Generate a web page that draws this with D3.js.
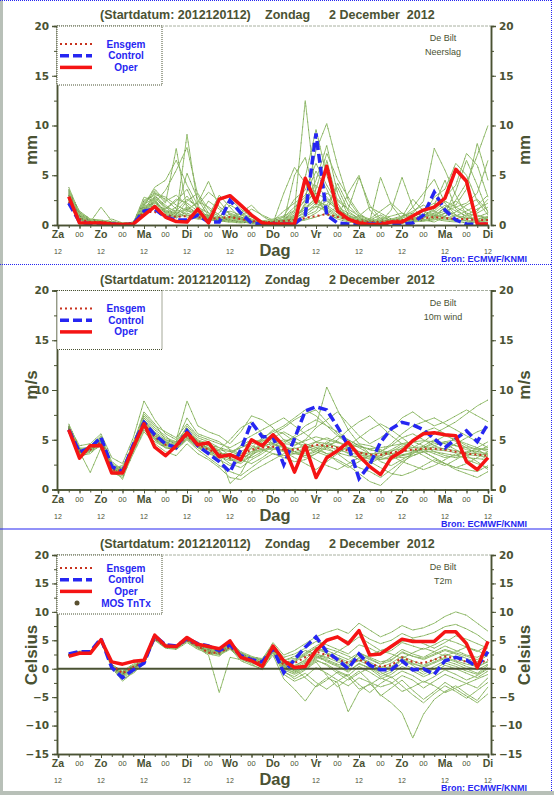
<!DOCTYPE html>
<html>
<head>
<meta charset="utf-8">
<script src="https://cdn.jsdelivr.net/npm/d3@7"></script>
<style>
body { margin: 0; background: #fff; }
text { font-family: 'Liberation Sans', Arial, sans-serif; }
.tick-label { font-family: 'DejaVu Sans', sans-serif; font-weight: bold; font-size: 10.5px; fill: #4a5233; }
</style>
</head>
<body>
<div id="chart"></div>
<script>
// forecast steps (hours after 2012-12-01 12 UTC)
let hours = [6,12,18,24,30,36,42,48,54,60,66,72,78,84,90,96,102,108,114,120,126,132,138,144,150,156,162,168,174,180,186,192,198,204,210,216,222,228,234,240]
let dayNames = ['Za','Zo','Ma','Di','Wo','Do','Vr','Za','Zo','Ma','Di']

// ---- Neerslag (mm)
let precipOper = [2.85,0.2,0.2,0.2,0.1,0.05,0.1,1.0,1.85,0.8,0.35,0.3,1.6,0.2,2.6,2.95,2.0,1.0,0.2,0.1,0.1,0.1,4.7,2.3,5.9,1.4,0.6,0.2,0.05,0.05,0.3,0.3,0.9,1.5,1.8,2.7,5.6,4.4,0.1,0.1]
let precipControl = [2.2,0.3,0.1,0.1,0.1,0.0,0.1,1.4,1.6,0.8,0.5,0.5,1.0,0.3,0.3,2.5,1.2,0.2,0.1,0.1,0.1,0.1,1.0,9.2,1.0,0.2,0.1,0.1,0.1,0.1,0.1,0.1,0.2,1.0,3.3,1.5,0.5,0.1,0.05,0.1]
let precipMean = [2.3,0.6,0.3,0.3,0.2,0.1,0.2,1.3,1.3,1.0,0.8,0.9,0.8,0.6,0.7,0.8,0.6,0.4,0.3,0.3,0.4,0.5,0.7,0.9,1.1,0.8,0.6,0.4,0.3,0.3,0.4,0.5,0.6,0.7,0.8,0.7,0.6,0.6,0.5,0.5]
let precipMembers = [
	[3.2,1.0,0.4,0.3,0.2,0.1,0.2,1.8,2.6,1.2,0.8,9.1,2.0,0.6,0.4,0.9,0.5,0.3,0.2,0.4,0.8,1.5,12.5,3.0,1.2,0.6,0.3,0.2,0.5,1.0,0.4,0.2,0.3,0.8,1.2,0.6,0.4,0.2,0.3,0.5],
	[2.6,0.8,0.3,1.8,0.4,0.1,0.1,1.2,3.4,2.2,7.7,1.5,0.8,2.4,1.6,0.7,1.2,2.0,0.9,0.3,0.2,0.4,2.2,4.5,8.0,3.2,1.0,0.4,0.2,0.3,1.5,4.8,1.8,0.5,0.3,0.8,2.5,4.2,7.0,10.0],
	[3.8,1.2,0.5,0.4,0.3,0.1,0.3,2.0,3.8,4.5,6.5,4.0,2.0,3.3,2.4,1.0,0.6,0.4,0.2,0.5,0.4,5.0,6.8,2.5,1.4,4.2,2.0,0.8,0.3,0.4,0.6,0.3,1.2,2.4,7.7,5.5,3.0,1.0,0.4,0.3],
	[2.4,0.6,0.2,0.2,0.6,0.2,0.1,1.5,2.2,3.5,5.5,7.8,3.0,1.2,0.4,0.3,0.2,0.3,0.4,0.6,0.9,2.6,3.5,6.2,4.0,2.2,0.6,0.3,0.2,0.8,0.5,0.4,0.6,1.0,2.8,3.6,6.2,5.0,2.4,1.0],
	[3.0,0.9,0.4,0.3,0.1,0.0,0.1,1.0,2.8,1.6,2.4,3.6,1.4,0.5,0.8,2.0,1.4,0.5,0.3,0.2,3.2,5.8,4.2,2.0,6.5,2.4,1.6,4.8,2.0,0.6,0.3,0.2,0.5,0.4,0.7,1.8,2.0,3.6,8.2,4.5],
	[2.0,0.5,0.2,0.2,0.1,0.1,0.2,2.4,3.0,1.8,1.0,2.4,3.2,1.6,0.8,0.5,0.3,0.2,0.1,0.2,0.6,1.2,4.8,9.6,5.0,1.8,0.6,0.3,0.2,0.2,0.3,0.8,2.6,1.4,0.6,0.4,0.3,0.5,1.4,2.6],
	[2.8,0.7,0.3,0.2,0.2,0.1,0.1,1.6,2.0,0.8,1.4,5.2,2.6,0.9,3.0,1.8,0.6,0.4,0.3,0.2,0.3,0.8,1.6,2.8,1.0,0.7,3.2,5.0,1.5,0.4,0.2,0.3,0.4,0.6,2.0,4.5,1.6,0.8,0.4,0.6],
	[3.4,1.4,0.6,0.5,0.3,0.2,0.2,2.8,2.4,1.4,0.9,1.6,2.2,4.4,1.8,1.2,0.8,0.5,0.3,0.3,0.5,0.6,2.0,3.6,7.2,4.6,2.8,1.2,0.4,4.8,2.0,0.6,0.3,0.4,0.6,1.2,3.4,6.5,4.0,1.2],
	[2.2,0.6,0.3,0.3,0.2,0.1,0.1,1.4,1.8,1.0,0.8,1.0,0.9,0.7,0.5,0.6,0.8,0.4,0.2,0.2,0.3,0.5,1.0,1.8,2.4,1.6,0.9,0.5,0.3,0.3,0.4,0.5,0.8,1.4,1.0,0.7,0.9,1.4,2.0,3.0],
	[3.6,1.1,0.4,0.3,0.2,0.1,0.2,2.2,3.2,2.8,2.0,1.4,1.2,1.0,0.6,0.4,0.3,0.2,0.2,0.4,1.4,2.2,3.0,5.4,3.6,1.2,0.5,0.2,0.1,0.2,0.3,0.6,1.8,3.2,4.6,2.2,1.0,0.4,0.3,0.8],
	[2.5,0.7,0.2,0.2,0.1,0.0,0.1,1.1,2.5,1.2,1.8,2.9,1.6,0.6,0.4,0.3,0.9,1.6,1.0,0.5,0.4,0.3,0.6,1.2,2.0,3.8,1.4,0.6,0.4,0.3,0.2,0.3,0.5,0.9,1.6,2.8,4.0,7.2,6.0,2.8],
	[3.1,0.9,0.5,0.4,0.2,0.1,0.3,1.9,3.6,2.4,3.0,2.0,1.0,0.8,1.2,2.6,1.6,0.8,0.4,0.3,0.6,1.0,2.6,7.5,10.2,6.0,2.5,1.0,0.6,0.4,0.5,0.4,0.6,0.8,1.0,1.4,1.8,2.2,3.2,6.5],
	[2.7,0.8,0.3,0.2,0.1,0.1,0.1,1.7,2.3,1.4,1.1,1.8,1.2,0.9,0.6,1.1,0.7,0.4,0.2,0.2,0.5,0.9,1.8,2.6,1.8,1.0,0.6,0.4,0.3,0.2,0.4,0.7,1.0,1.6,2.2,1.6,1.0,0.7,0.6,0.8],
	[2.9,1.0,0.4,0.3,0.2,0.1,0.2,1.3,2.0,1.6,2.6,2.2,1.4,0.8,0.5,0.4,0.3,0.3,0.2,0.3,0.6,1.4,2.4,3.2,2.6,1.4,0.8,0.5,0.4,0.6,0.9,1.2,0.8,0.5,0.9,1.8,2.4,1.6,1.0,0.7],
	[2.3,0.5,0.2,0.2,0.1,0.0,0.1,1.6,2.9,2.0,1.2,0.8,0.6,0.5,0.9,1.4,1.0,0.6,0.3,0.2,0.2,0.4,0.9,1.4,3.2,2.6,1.6,0.9,0.5,0.3,0.2,0.2,0.4,0.7,1.2,2.0,1.4,0.9,1.2,1.8],
	[3.3,1.2,0.5,0.4,0.2,0.1,0.2,2.1,2.7,1.8,1.4,2.6,1.8,1.2,0.7,0.5,0.4,0.3,0.2,0.3,0.4,0.7,1.2,2.2,1.6,0.9,0.5,0.3,0.6,1.4,2.2,1.2,0.6,0.4,0.5,0.9,1.3,2.0,2.6,1.4],
	[2.1,0.6,0.3,0.2,0.1,0.1,0.1,1.2,1.9,1.3,0.9,1.2,0.8,0.6,0.4,0.7,1.1,0.8,0.4,0.3,0.2,0.3,0.5,0.8,1.2,1.8,1.2,0.7,0.4,0.2,0.2,0.3,0.6,1.1,0.8,0.5,0.6,1.0,1.6,2.2],
	[3.5,1.3,0.6,0.4,0.3,0.2,0.2,2.5,3.1,2.6,1.6,1.0,0.7,0.5,0.4,0.6,0.5,0.3,0.2,0.4,0.8,1.8,2.8,4.0,2.8,1.6,1.0,0.6,0.4,0.3,0.5,0.8,1.4,2.0,1.4,0.8,0.5,0.4,0.5,0.9],
	[2.6,0.7,0.3,0.3,0.2,0.1,0.1,1.5,2.4,1.1,0.7,1.4,2.4,1.8,1.0,0.5,0.3,0.2,0.2,0.2,0.3,0.6,1.4,1.9,1.4,0.8,0.4,0.9,1.8,1.2,0.6,0.4,0.3,0.5,0.8,1.2,0.9,0.6,0.8,1.2],
	[3.0,0.9,0.4,0.3,0.2,0.1,0.2,1.9,2.2,1.5,1.2,1.6,1.1,0.7,0.5,0.8,0.6,0.4,0.3,0.3,0.4,0.8,1.6,2.4,2.0,1.2,0.7,0.4,0.3,0.4,0.6,0.9,1.2,1.0,1.4,2.4,1.8,1.2,0.9,0.6]
]

// ---- 10m wind (m/s)
let windOper = [6.0,3.15,4.4,4.4,1.65,1.65,4.25,6.6,4.25,3.4,4.4,5.7,4.5,4.7,3.3,3.5,3.0,5.0,4.4,5.5,4.4,1.75,4.4,1.2,3.2,3.9,4.75,3.4,2.3,1.5,3.2,3.85,4.9,5.6,5.7,5.5,5.4,2.8,2.0,3.2]
let windControl = [6.0,3.75,4.2,5.25,2.3,1.8,4.5,6.75,5.5,4.6,4.2,5.9,4.4,3.6,2.8,1.75,4.0,6.75,5.3,5.3,2.5,5.1,7.9,8.3,8.0,6.3,4.4,1.1,2.5,4.75,6.1,6.75,6.5,6.0,5.1,4.2,5.1,5.9,4.8,6.6]
let windMean = [6.0,3.8,4.0,4.8,2.0,1.9,4.3,6.6,5.3,4.5,4.3,5.4,4.5,4.0,3.6,3.2,3.5,4.0,4.2,4.3,4.0,4.0,4.2,4.5,4.4,4.2,3.9,3.7,3.5,3.5,3.7,3.9,4.0,4.1,4.1,4.0,3.8,3.6,3.5,3.4]
let windMembers = [
	[6.2,4.0,4.2,5.0,2.6,2.0,4.8,7.2,6.0,5.2,4.8,6.2,5.0,4.6,3.8,3.0,2.6,3.4,4.8,5.6,6.2,7.0,7.6,8.0,6.8,5.6,4.8,4.2,3.6,3.0,3.4,4.2,5.0,5.8,6.2,5.6,4.8,4.2,3.6,3.0],
	[5.8,3.4,3.6,4.6,1.6,1.4,3.8,6.0,4.8,4.2,4.0,5.0,4.0,3.2,2.4,1.8,1.4,2.2,3.0,3.6,3.2,2.8,3.0,3.6,4.2,3.6,2.8,2.2,1.8,1.2,2.0,2.8,3.4,3.8,3.2,2.6,2.2,2.0,1.8,2.4],
	[6.4,4.4,4.6,5.6,3.2,2.6,5.2,8.9,7.0,5.6,5.0,8.9,6.4,5.8,5.4,4.6,5.8,7.4,7.0,6.2,5.0,4.4,5.0,6.2,7.0,7.8,6.6,5.4,4.6,5.2,6.0,7.2,7.8,7.0,6.4,6.8,7.4,8.0,7.4,6.8],
	[6.0,3.8,1.7,4.2,2.0,1.8,4.4,6.6,5.4,4.8,4.2,5.4,4.6,4.2,3.4,2.6,2.2,3.0,3.6,4.4,4.8,5.2,5.8,6.4,10.3,8.0,6.0,4.6,3.6,2.8,2.4,3.0,3.6,4.2,4.8,5.4,5.0,4.4,4.0,3.4],
	[6.6,4.2,4.0,5.2,2.4,1.0,4.0,7.0,5.8,5.0,4.6,6.0,4.8,4.4,3.6,0.6,1.6,3.6,5.0,6.0,5.6,4.8,4.2,3.8,3.4,3.0,2.4,1.6,0.8,0.4,1.4,2.6,3.6,4.4,5.0,4.6,4.0,3.4,2.8,2.0],
	[6.1,3.6,4.4,5.4,2.2,2.2,4.6,7.6,6.4,5.8,5.2,6.6,5.4,5.0,4.6,4.2,4.8,5.4,6.0,6.6,7.2,6.4,5.6,4.8,4.2,5.0,6.0,6.8,7.4,6.4,5.4,4.6,4.2,4.8,5.6,6.2,6.8,7.6,8.4,9.0],
	[5.9,3.2,3.8,4.4,1.8,1.2,3.6,5.8,4.6,3.8,3.4,4.6,3.6,3.0,2.2,1.2,1.0,1.8,2.4,3.0,3.6,4.2,3.6,3.0,2.4,2.0,2.6,3.2,2.8,2.2,1.6,1.4,1.8,2.4,3.0,2.6,2.0,1.6,1.2,1.8],
	[6.3,4.1,4.0,4.9,2.1,2.4,4.2,6.8,5.6,4.6,4.4,5.8,4.8,4.0,3.2,3.6,4.4,5.0,4.6,4.0,4.6,5.4,6.4,7.0,6.4,5.8,5.0,4.4,4.0,3.8,4.4,5.2,5.6,5.0,4.4,4.0,4.6,5.2,5.8,6.2],
	[6.0,3.9,4.3,5.1,2.5,1.6,4.3,6.4,5.2,4.4,4.6,5.6,4.4,3.6,4.0,5.0,6.2,6.8,5.6,4.6,3.8,3.2,2.6,2.0,2.8,3.6,4.4,5.2,6.0,6.6,6.0,5.2,4.4,3.8,3.2,2.6,2.2,2.6,3.2,3.8],
	[6.2,3.5,3.9,4.7,1.9,1.9,4.1,7.4,6.2,5.4,4.4,6.4,5.2,4.8,4.2,3.4,3.0,2.6,3.2,4.0,4.4,3.8,3.4,4.0,4.8,4.2,3.6,3.0,2.6,3.2,3.8,4.4,4.0,3.4,2.8,2.4,3.0,3.6,4.2,4.8],
	[5.8,3.7,4.1,5.3,2.8,2.0,4.6,7.8,6.6,5.0,4.8,7.2,5.6,5.2,4.8,4.0,3.6,4.2,5.2,5.8,6.4,7.2,8.0,7.4,6.4,5.4,4.6,3.8,3.2,3.8,4.6,5.6,6.4,6.8,7.2,6.6,6.0,5.4,4.8,4.2],
	[6.4,3.9,4.1,4.8,2.3,1.5,3.9,6.2,5.0,4.2,4.0,5.2,4.2,3.8,3.0,2.4,2.8,3.8,4.4,5.2,5.8,5.2,4.6,4.2,3.6,2.8,2.2,2.8,3.4,4.0,3.4,2.8,2.4,2.0,2.4,3.0,3.6,3.0,2.6,2.2],
	[6.1,3.9,4.1,4.9,2.1,1.9,4.3,6.7,5.4,4.6,4.4,5.5,4.6,4.1,3.7,3.3,3.6,4.1,4.4,4.6,4.2,4.1,4.4,4.8,4.6,4.3,4.0,3.8,3.6,3.6,3.9,4.1,4.2,4.3,4.2,4.1,3.9,3.7,3.6,3.5],
	[5.9,3.6,3.9,4.6,1.9,1.7,4.1,6.4,5.1,4.3,4.1,5.2,4.3,3.8,3.3,2.9,3.2,3.6,3.9,4.1,3.8,3.6,3.8,4.2,4.0,3.7,3.4,3.3,3.1,3.0,3.2,3.5,3.7,3.8,3.8,3.6,3.4,3.2,3.1,3.0],
	[6.3,4.1,4.3,5.0,2.2,2.1,4.6,7.0,5.6,4.9,4.7,5.9,4.9,4.4,4.0,3.8,4.2,4.6,4.9,5.0,4.6,4.5,4.9,5.3,5.0,4.7,4.4,4.3,4.1,4.2,4.4,4.6,4.8,4.9,4.8,4.6,4.4,4.2,4.1,4.0],
	[6.0,3.7,4.0,4.7,2.0,1.8,4.2,6.5,5.2,4.4,4.3,5.3,4.4,4.0,3.5,3.1,3.4,3.8,4.0,4.2,3.9,3.8,4.1,4.4,4.3,4.0,3.7,3.5,3.3,3.4,3.6,3.8,3.9,4.0,4.0,3.9,3.7,3.5,3.4,3.3],
	[6.2,3.8,4.2,5.0,2.4,2.0,4.5,6.9,5.7,4.8,4.5,5.7,4.9,4.5,4.2,3.9,3.4,3.2,3.8,4.6,5.0,4.8,4.4,4.0,3.6,3.8,4.2,4.6,4.4,4.0,3.6,3.4,3.6,4.2,4.6,4.8,4.4,4.0,3.8,3.6],
	[5.9,3.6,3.8,4.5,1.8,1.6,4.0,6.3,5.0,4.2,4.0,5.1,4.2,3.6,3.2,3.4,3.8,4.4,4.0,3.6,3.4,3.6,4.0,4.8,5.2,4.8,4.2,3.8,3.4,3.2,3.0,3.4,3.8,4.0,3.6,3.2,3.4,3.8,4.0,4.2],
	[6.1,4.0,4.1,4.8,2.2,2.0,4.4,6.6,5.4,4.7,4.2,5.6,4.7,4.2,3.9,3.0,2.8,3.4,4.2,4.8,4.4,3.8,3.2,3.6,4.4,4.8,4.4,3.6,3.0,3.4,4.0,4.6,4.8,4.4,3.8,3.4,3.2,3.4,3.8,4.4],
	[6.0,3.8,3.9,4.9,2.0,1.9,4.3,6.5,5.2,4.5,4.3,5.4,4.5,4.0,3.6,3.6,4.2,4.8,5.0,4.6,4.2,3.6,3.4,3.8,4.6,5.4,5.0,4.4,4.0,3.8,3.4,3.2,3.4,3.8,4.4,4.8,5.0,4.6,4.2,3.8]
]

// ---- T2m (Celsius)
let tempOper = [2.2,2.7,2.7,5.1,1.2,0.8,1.3,1.5,5.9,4.0,3.9,5.5,4.3,3.9,3.5,4.9,2.0,1.4,0.4,4.0,1.4,0.2,0.4,3.2,5.0,5.6,4.4,6.7,2.4,2.6,3.9,5.2,4.8,4.8,4.8,6.5,6.5,4.4,0.2,4.8]
let tempControl = [2.6,3.0,3.0,5.3,0.2,-1.6,-0.2,1.0,5.8,4.2,4.0,5.3,4.4,4.0,3.2,4.2,2.3,1.6,1.2,3.5,-0.7,1.6,3.8,5.6,3.0,1.6,0.0,2.6,0.6,-0.2,-0.2,1.4,-0.2,0.0,-1.0,1.4,2.0,1.5,0.4,3.0]
let tempMean = [2.4,2.9,2.9,5.0,0.6,-0.8,0.3,1.2,5.3,4.0,3.8,5.0,4.0,2.8,2.8,3.8,2.2,1.6,1.0,3.6,0.6,1.0,2.0,3.0,2.4,1.6,1.0,1.6,0.8,0.4,0.6,2.0,1.2,1.0,1.6,2.2,1.8,1.2,0.8,1.6]
let tempMembers = [
	[2.5,2.9,2.9,5.1,0.6,-1.0,0.2,1.2,5.6,4.0,3.8,5.2,4.2,3.6,3.2,4.6,2.4,1.6,1.0,3.8,1.0,0.4,1.6,3.4,2.8,2.0,1.2,2.4,1.6,0.8,1.4,3.0,2.2,1.6,2.4,3.2,2.6,1.8,1.2,2.4],
	[2.3,2.8,2.8,4.9,0.4,-1.6,-0.4,1.0,5.2,3.8,3.6,4.8,3.6,2.4,-4.2,2.0,1.6,1.0,0.4,3.0,-1.0,-2.2,-1.4,0.2,-0.8,-2.0,-3.0,-1.6,-2.4,-3.2,-2.6,-1.2,-2.0,-3.4,-2.2,-1.0,-1.8,-2.6,-3.4,-1.6],
	[2.6,3.0,3.0,5.2,0.8,-0.6,0.6,1.4,5.8,4.2,4.0,5.4,4.4,3.8,3.4,4.8,3.0,2.2,1.6,4.6,2.4,3.2,4.4,5.6,6.4,7.0,6.2,8.0,6.8,5.6,6.4,7.6,6.8,7.2,8.0,9.2,10.0,9.4,8.0,6.6],
	[2.4,2.7,2.7,4.8,0.2,-2.2,-0.6,0.8,5.0,3.6,3.4,4.6,3.4,2.8,2.6,3.6,1.4,0.6,0.0,2.4,-1.8,-3.6,-5.7,-3.0,-1.6,-2.4,-7.6,-4.0,-2.6,-4.6,-6.0,-7.8,-12.2,-8.0,-5.4,-4.0,-3.0,-4.4,-5.6,-3.2],
	[2.5,2.9,2.9,5.0,0.5,-0.8,0.4,1.3,5.4,4.0,3.8,5.0,4.0,3.0,2.8,4.0,2.6,1.8,1.4,3.4,0.4,-0.4,0.6,2.0,1.4,0.6,-0.4,0.8,0.2,-1.0,-0.2,1.6,0.6,-0.6,0.4,1.4,0.8,0.0,-0.8,0.6],
	[2.2,2.6,2.6,4.7,0.6,-1.2,0.0,1.1,5.2,3.9,3.7,5.1,3.8,3.2,3.0,4.4,2.0,1.2,0.6,3.6,0.8,1.6,2.8,4.0,5.0,5.6,4.8,6.4,5.2,4.4,5.0,6.2,5.4,5.8,6.4,7.4,7.8,7.0,6.0,4.6],
	[2.6,3.1,3.1,5.3,0.7,-0.4,0.8,1.6,5.9,4.3,4.1,5.3,4.3,3.4,3.0,4.2,2.8,2.0,1.4,3.2,-0.6,-1.4,-0.2,1.2,-1.2,-3.2,-1.8,-0.4,-2.2,-4.8,-3.4,-2.0,-3.8,-5.4,-4.0,-2.4,-3.6,-4.8,-6.0,-4.4],
	[2.4,2.8,2.8,5.0,0.6,-1.4,-0.2,1.0,5.4,4.0,3.8,5.0,3.8,2.6,2.2,3.8,2.2,1.4,0.8,3.8,1.4,2.2,3.2,2.6,1.8,3.0,4.2,5.6,4.4,3.2,3.8,4.8,5.2,4.4,3.6,4.6,5.8,5.2,4.4,3.6],
	[2.5,2.9,3.0,5.1,0.5,-0.9,0.3,1.2,5.6,4.1,3.9,5.2,4.1,3.5,3.1,4.5,2.5,1.7,1.2,3.4,0.2,-0.8,0.4,1.8,2.6,1.6,0.4,2.0,1.2,0.2,1.0,2.2,1.4,0.6,1.6,2.6,2.0,1.2,0.2,1.4],
	[2.3,2.7,2.8,4.9,0.3,-1.8,-0.8,0.9,5.1,3.7,3.5,4.9,3.7,3.0,2.4,3.4,1.8,0.8,-0.2,2.8,-0.4,-1.8,-0.8,-2.4,-3.6,-2.2,-1.0,-2.8,-4.2,-2.6,-1.4,-3.0,-4.6,-6.0,-4.4,-3.0,-4.0,-5.2,-3.8,-2.4],
	[2.5,3.0,2.9,5.2,0.7,-0.6,0.5,1.4,5.7,4.2,4.0,5.3,4.2,3.7,3.4,4.7,2.8,2.0,1.8,4.2,2.0,2.6,3.6,4.8,4.2,3.4,2.6,4.2,3.6,2.6,3.2,4.6,4.0,3.4,4.2,5.2,4.6,3.8,3.0,4.2],
	[2.4,2.8,2.9,5.0,0.4,-1.2,0.1,1.1,5.3,3.9,3.6,4.9,3.9,3.1,2.6,4.1,2.2,1.4,0.8,3.6,0.6,0.0,-1.6,-3.2,-2.0,-0.6,-1.4,-3.6,-2.8,-1.6,-2.4,-4.0,-3.2,-2.2,-3.0,-4.2,-3.4,-2.6,-1.8,-1.0],
	[2.4,2.9,2.9,5.0,0.6,-0.9,0.3,1.2,5.4,4.0,3.8,5.0,4.0,3.2,2.9,3.9,2.3,1.6,1.0,3.5,0.8,0.6,1.4,2.6,2.0,1.2,0.6,1.4,0.6,0.0,0.4,1.6,0.8,0.4,1.2,2.0,1.4,0.8,0.4,1.2],
	[2.5,3.0,2.9,5.1,0.5,-1.1,0.2,1.1,5.5,4.1,3.9,5.1,4.0,3.3,3.0,4.1,2.3,1.5,0.9,3.4,0.2,-0.2,1.0,2.2,1.6,0.8,0.2,1.8,1.0,-0.4,0.2,1.8,1.0,0.2,1.0,1.8,1.2,0.4,-0.2,0.8],
	[2.3,2.8,2.8,4.9,0.6,-0.7,0.4,1.3,5.3,3.9,3.8,5.0,3.9,3.1,2.7,3.7,2.1,1.5,1.1,3.7,1.2,1.4,2.6,3.6,3.2,2.4,1.6,2.8,2.0,1.2,1.6,2.8,2.2,1.8,2.6,3.4,2.8,2.2,1.6,2.6],
	[2.5,2.9,2.9,5.0,0.7,-0.6,0.5,1.3,5.4,4.0,3.8,5.0,4.0,2.7,2.5,3.6,2.0,1.2,0.4,3.0,-0.2,-1.0,0.0,1.4,0.8,-0.4,-1.2,0.4,-0.6,-1.8,-1.0,0.4,-0.4,-1.4,-0.6,0.6,0.0,-0.8,-1.6,-0.4],
	[2.4,2.8,3.0,5.0,0.5,-1.0,0.2,1.2,5.3,4.0,3.7,5.0,4.1,3.4,3.2,4.3,2.6,2.0,1.6,3.9,1.6,1.8,2.2,3.0,3.6,3.0,2.2,1.4,2.4,3.2,2.6,1.8,2.8,3.6,3.0,2.2,3.0,3.8,3.2,2.2],
	[2.4,2.9,2.8,4.9,0.4,-1.3,0.0,1.0,5.2,3.9,3.7,4.9,3.8,2.9,2.6,3.6,1.9,1.2,0.6,3.2,0.0,-0.6,0.2,1.6,0.6,-0.8,-2.0,-0.8,0.2,-0.6,-1.6,-0.4,-1.2,-2.4,-1.4,-0.2,-1.0,-2.0,-1.2,0.0],
	[2.6,3.0,3.0,5.2,0.6,-0.8,0.4,1.3,5.6,4.1,3.9,5.1,4.1,3.3,3.0,4.2,2.4,1.7,1.1,3.6,0.8,1.2,2.4,3.8,2.8,1.8,0.8,2.8,1.8,0.8,2.0,3.4,2.6,2.0,3.0,4.0,3.2,2.4,2.0,3.0],
	[2.3,2.8,2.9,5.0,0.5,-0.9,0.3,1.1,5.3,3.9,3.8,5.0,3.9,3.0,2.8,3.9,2.2,1.5,1.0,3.5,0.4,0.2,1.2,2.4,1.2,0.4,-0.6,1.0,0.0,-1.4,-0.6,1.0,0.0,-1.0,0.0,1.0,0.4,-0.4,-1.0,0.2]
]

let panels = [
	{ name: 'Neerslag', unit: 'mm', unitY: 150, domain: [0, 20], majors: [0,5,10,15,20],
	  members: precipMembers, mean: precipMean, control: precipControl, oper: precipOper, mos: false },
	{ name: '10m wind', unit: 'm/s', unitY: 385, domain: [0, 20], majors: [0,5,10,15,20],
	  members: windMembers, mean: windMean, control: windControl, oper: windOper, mos: false },
	{ name: 'T2m', unit: 'Celsius', unitY: 655, domain: [-15, 20], majors: [-15,-10,-5,0,5,10,15,20],
	  members: tempMembers, mean: tempMean, control: tempControl, oper: tempOper, mos: true }
]

let ink = '#4a5233', green = '#98c272', blue = '#2626f2', red = '#f51414', brown = '#c8321e'
let width = 554, height = 795
let margin = { left: 57, right: 491, top: 26, bottom: 225 }

let svg = d3.select('#chart')
.append('svg')
.attr('width', width)
.attr('height', height)

svg.append('rect').attr('width', width).attr('height', height).attr('fill', '#fff')

let x = d3.scaleLinear().domain([0, 240]).range([58, 488])

svg.append('clipPath').attr('id', 'plot-clip')
.append('rect')
.attr('x', margin.left).attr('y', margin.top)
.attr('width', margin.right - margin.left).attr('height', margin.bottom - margin.top)

function drawPanel(p, i) {
	let o = i * 264.5
	let g = svg.append('g').attr('transform', `translate(0, ${o})`)

	let y = d3.scaleLinear().domain(p.domain).range([margin.bottom, margin.top])
	let line = d3.line().x((d, k) => x(hours[k])).y(d => y(d))

	// title
	let title = g.append('g').attr('font-weight', 'bold').attr('font-size', 12.5).attr('fill', ink)
	title.append('text').attr('x', 100).attr('y', 19).text('(Startdatum: 2012120112)')
	title.append('text').attr('x', 265).attr('y', 19).text('Zondag')
	title.append('text').attr('x', 329).attr('y', 19).attr('xml:space', 'preserve').text('2 December  2012')

	// frame top
	g.append('line')
	.attr('x1', margin.left).attr('x2', margin.right).attr('y1', margin.top).attr('y2', margin.top)
	.attr('stroke', '#a8b0a0').attr('stroke-dasharray', '3,1')

	let plot = g.append('g').attr('clip-path', 'url(#plot-clip)')

	// ensemble members
	plot.selectAll('.member')
	.data(p.members)
	.join('path')
	.attr('class', 'member')
	.attr('d', line)
	.attr('fill', 'none')
	.attr('stroke', green)
	.attr('stroke-width', 1)

	plot.selectAll('.speckle')
	.data(p.members)
	.join('path')
	.attr('class', 'speckle')
	.attr('d', line)
	.attr('fill', 'none')
	.attr('stroke', '#55653a')
	.attr('stroke-width', 1)
	.attr('stroke-dasharray', '1,7')
	.attr('opacity', 0.5)

	if (p.domain[0] < 0) {
		plot.append('line')
		.attr('x1', margin.left).attr('x2', margin.right).attr('y1', y(0)).attr('y2', y(0))
		.attr('stroke', ink).attr('stroke-width', 2)
	}

	plot.append('path').attr('d', line(p.mean))
	.attr('fill', 'none').attr('stroke', brown).attr('stroke-width', 2).attr('stroke-dasharray', '2,3')

	plot.append('path').attr('d', line(p.control))
	.attr('fill', 'none').attr('stroke', blue).attr('stroke-width', 3.5).attr('stroke-dasharray', '9,4')

	plot.append('path').attr('d', line(p.oper))
	.attr('fill', 'none').attr('stroke', red).attr('stroke-width', 3.5).attr('stroke-linejoin', 'round')

	// y axes
	let minors = d3.range(p.domain[0], p.domain[1] + 0.1, 2.5)
	let yl = g.append('g').attr('transform', `translate(${margin.left}, 0)`)
	.call(d3.axisLeft(y).tickValues(minors).tickSize(3).tickFormat(''))
	yl.append('g').call(d3.axisLeft(y).tickValues(p.majors).tickSize(5).tickPadding(3))
	let yr = g.append('g').attr('transform', `translate(${margin.right}, 0)`)
	.call(d3.axisRight(y).tickValues(minors).tickSize(3).tickFormat(''))
	yr.append('g').call(d3.axisRight(y).tickValues(p.majors).tickSize(5).tickPadding(3))

	// x axis
	let xa = g.append('g').attr('transform', `translate(0, ${margin.bottom})`)
	.call(d3.axisBottom(x).tickValues(d3.range(0, 241, 6)).tickSize(3).tickFormat(''))
	xa.append('g').call(d3.axisBottom(x).tickValues(d3.range(0, 241, 12)).tickSize(4).tickFormat(''))

	g.selectAll('.domain').attr('stroke', ink).attr('stroke-width', 1.5)
	g.selectAll('.tick line').attr('stroke', ink)
	g.selectAll('.tick text').attr('class', 'tick-label').attr('fill', ink)

	// day labels
	g.selectAll('.day')
	.data(dayNames)
	.join('text')
	.attr('class', 'day')
	.attr('x', (d, k) => x(k * 24))
	.attr('y', 238)
	.attr('text-anchor', 'middle')
	.attr('font-family', 'DejaVu Sans')
	.attr('font-weight', 'bold')
	.attr('font-size', 10.5)
	.attr('fill', ink)
	.text(d => d)

	// the "12" under Do is hidden behind the axis title
	g.selectAll('.day12')
	.data(dayNames.map((d, k) => k).filter(k => k != 5))
	.join('text')
	.attr('class', 'day12')
	.attr('x', k => x(k * 24))
	.attr('y', 254)
	.attr('text-anchor', 'middle')
	.attr('font-size', 7)
	.attr('fill', ink)
	.text('12')

	g.selectAll('.midnight')
	.data(dayNames.slice(1))
	.join('text')
	.attr('class', 'midnight')
	.attr('x', (d, k) => x(k * 24 + 12))
	.attr('y', 237)
	.attr('text-anchor', 'middle')
	.attr('font-size', 7.5)
	.attr('fill', ink)
	.text('00')

	g.append('text')
	.attr('x', 275).attr('y', 256)
	.attr('text-anchor', 'middle')
	.attr('font-family', 'DejaVu Sans').attr('font-weight', 'bold').attr('font-size', 16.5)
	.attr('fill', ink)
	.text('Dag')

	g.append('text')
	.attr('x', 441).attr('y', 262)
	.attr('font-weight', 'bold').attr('font-size', 9).attr('fill', blue)
	.text('Bron: ECMWF/KNMI')

	// unit labels
	let uy = p.unitY - o
	g.append('text')
	.attr('transform', `translate(37, ${uy}) rotate(-90)`)
	.attr('text-anchor', 'middle')
	.attr('font-family', 'DejaVu Sans').attr('font-weight', 'bold').attr('font-size', 17)
	.attr('fill', ink)
	.text(p.unit)
	g.append('text')
	.attr('transform', `translate(530, ${uy}) rotate(-90)`)
	.attr('text-anchor', 'middle')
	.attr('font-family', 'DejaVu Sans').attr('font-weight', 'bold').attr('font-size', 17)
	.attr('fill', ink)
	.text(p.unit)

	// station
	g.append('text').attr('x', 443).attr('y', 41).attr('text-anchor', 'middle')
	.attr('font-family', 'DejaVu Sans').attr('font-size', 9).attr('fill', ink).text('De Bilt')
	g.append('text').attr('x', 443).attr('y', 55).attr('text-anchor', 'middle')
	.attr('font-family', 'DejaVu Sans').attr('font-size', 9).attr('fill', ink).text(p.name)

	// legend
	let entries = [
		{ label: 'Ensgem', stroke: brown, w: 2, dash: '2,3' },
		{ label: 'Control', stroke: blue, w: 3.5, dash: '9,4' },
		{ label: 'Oper', stroke: red, w: 3.5, dash: null }
	]
	if (p.mos) entries.push({ label: 'MOS TnTx', dot: true })
	let rowY0 = p.mos ? 39 : 44
	g.append('rect')
	.attr('x', margin.left).attr('y', margin.top).attr('width', 105).attr('height', 59)
	.attr('fill', '#fff').attr('stroke', ink).attr('stroke-dasharray', '1,1')

	let rows = g.selectAll('.legend-row')
	.data(entries)
	.join('g')
	.attr('class', 'legend-row')
	.attr('transform', (d, k) => `translate(0, ${rowY0 + k * 11.7})`)

	rows.filter(d => !d.dot).append('line')
	.attr('x1', 60).attr('x2', 92)
	.attr('stroke', d => d.stroke).attr('stroke-width', d => d.w)
	.attr('stroke-dasharray', d => d.dash)

	rows.filter(d => d.dot).append('circle')
	.attr('cx', 77).attr('r', 2.5).attr('fill', '#5a5030')

	rows.append('text')
	.attr('x', 126).attr('y', 3.5)
	.attr('text-anchor', 'middle')
	.attr('font-weight', 'bold').attr('font-size', 10)
	.attr('fill', blue)
	.text(d => d.label)
}

panels.forEach(drawPanel)

// page borders
svg.append('rect').attr('x', 0).attr('y', 0).attr('width', 3).attr('height', height).attr('fill', '#b8c0b8')
svg.append('rect').attr('x', 0).attr('y', 791).attr('width', width).attr('height', 4).attr('fill', '#b8c0b8')
svg.append('line').attr('x1', 0).attr('x2', 552).attr('y1', 0.5).attr('y2', 0.5)
.attr('stroke', blue).attr('stroke-dasharray', '1,1')
svg.append('line').attr('x1', 551.5).attr('x2', 551.5).attr('y1', 0).attr('y2', 791)
.attr('stroke', blue).attr('stroke-dasharray', '1,1')
svg.append('line').attr('x1', 0).attr('x2', 552).attr('y1', 264.5).attr('y2', 264.5)
.attr('stroke', blue).attr('stroke-dasharray', '1,1')
svg.append('line').attr('x1', 0).attr('x2', 552).attr('y1', 529).attr('y2', 529)
.attr('stroke', blue).attr('stroke-width', 1.2)
</script>
</body>
</html>
